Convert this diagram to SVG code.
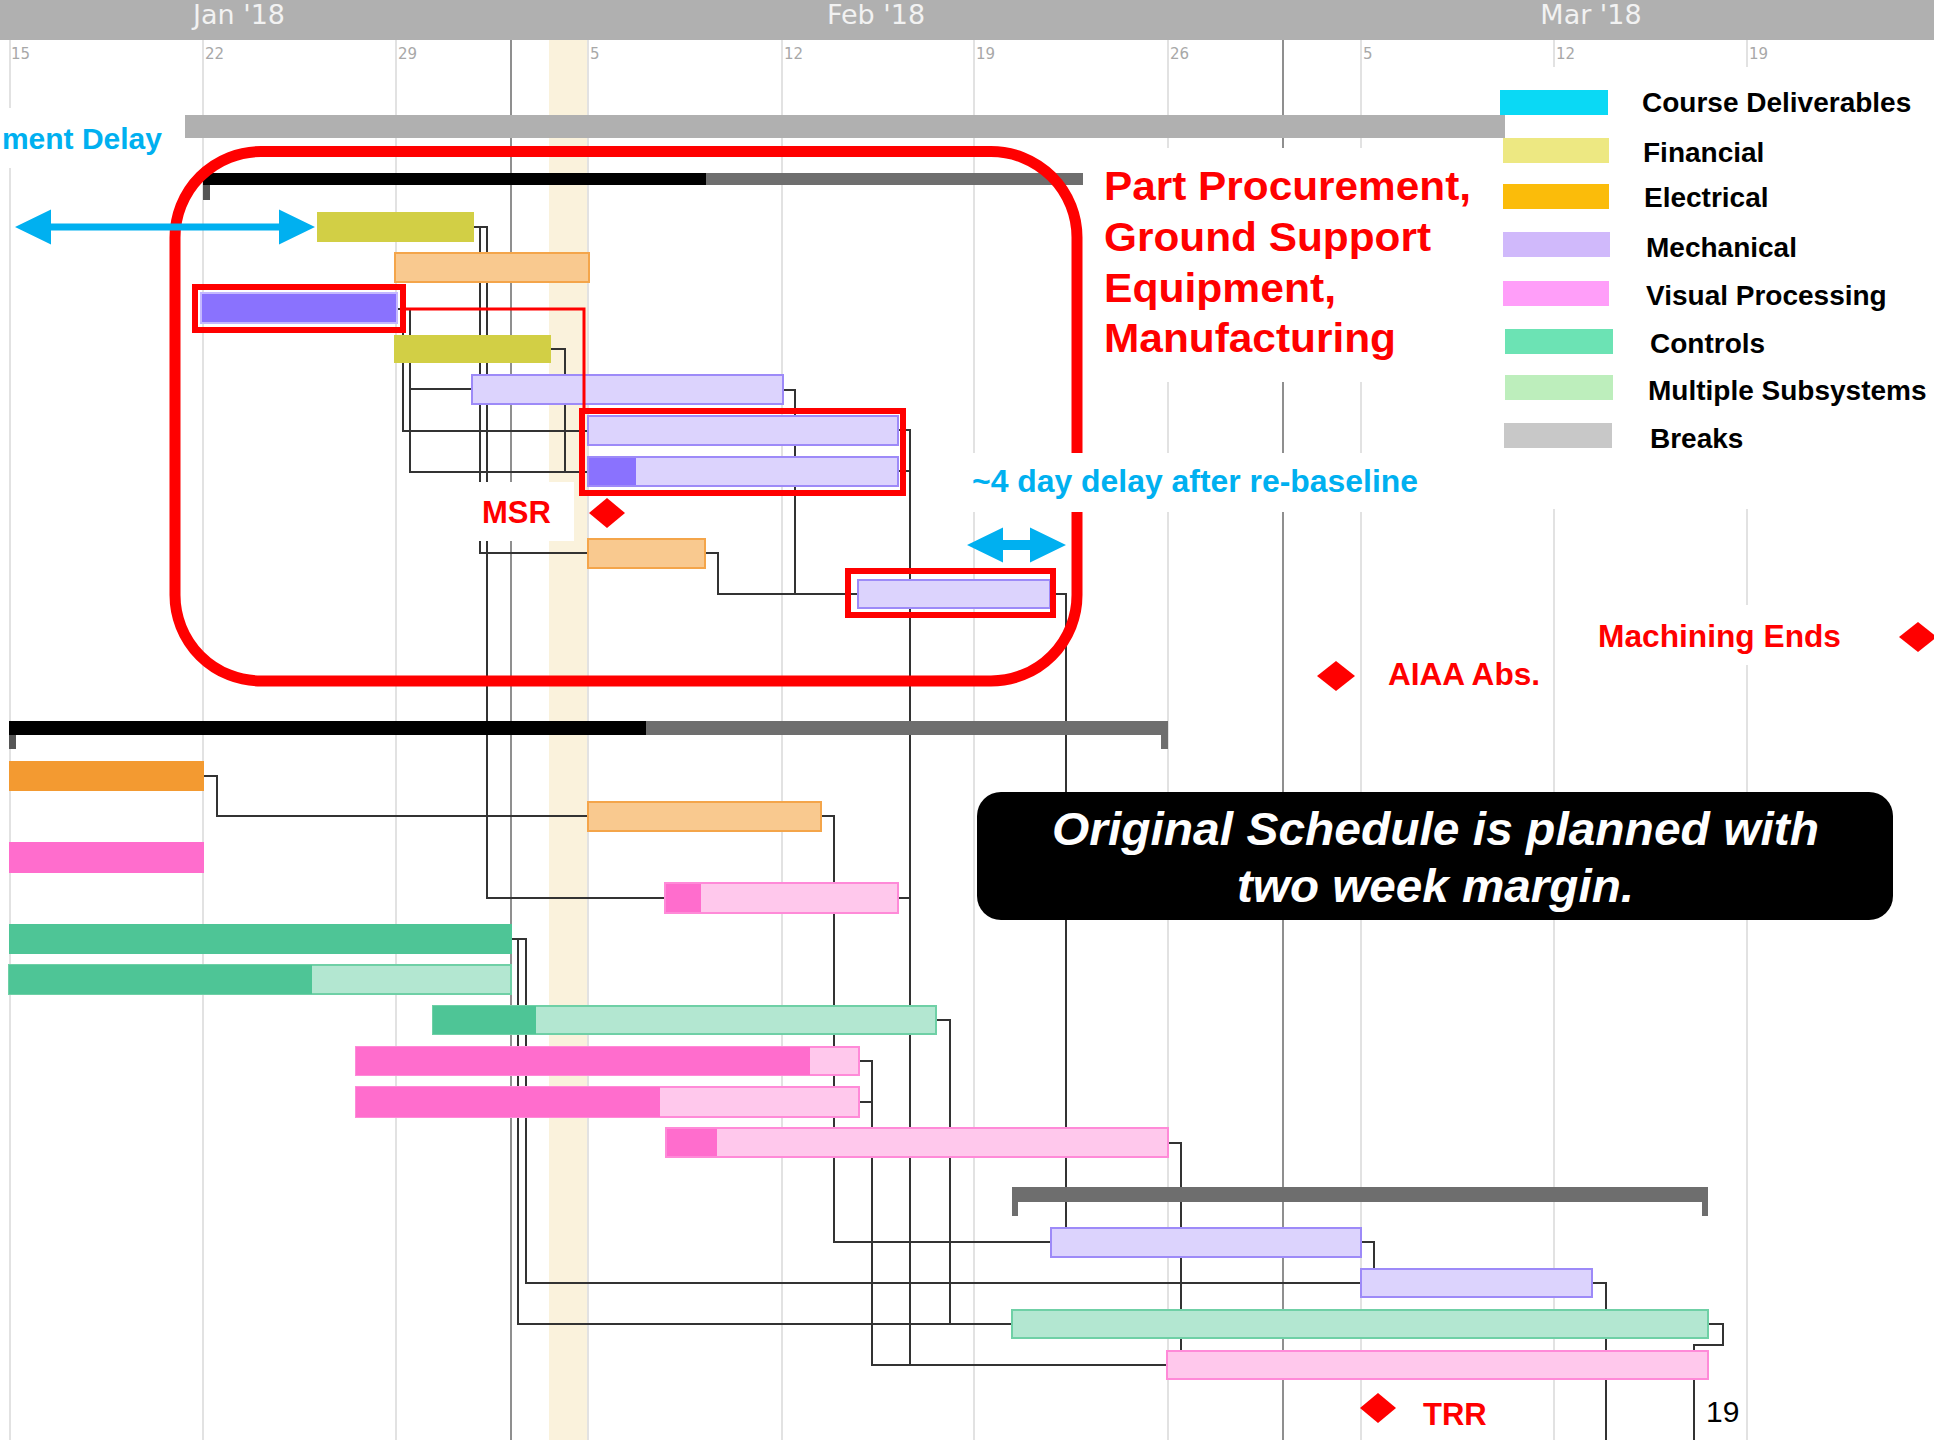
<svg xmlns="http://www.w3.org/2000/svg" width="1934" height="1440" viewBox="0 0 1934 1440">
<style>
.grid{stroke:#e2e2e2;stroke-width:2}
.mon{stroke:#8f8f8f;stroke-width:2}
.wk{font-family:"DejaVu Sans",sans-serif;font-size:15px;fill:#a8a8a8}
.mo{font-family:"DejaVu Sans",sans-serif;font-size:27px;fill:#f2f2f2;text-anchor:middle}
.olive{fill:#d2cf45}
.lorange{fill:#f9c98f;stroke:#f4a54a;stroke-width:2}
.orange{fill:#f39a31}
.dpurple{fill:#8a72fe}
.lpurple{fill:#dcd3fd;stroke:#9d8af8;stroke-width:2}
.pink{fill:#ff6dcd}
.lpink{fill:#ffc8ec;stroke:#ff8ad8;stroke-width:2}
.green{fill:#4ec596}
.lgreen{fill:#b3e7d1;stroke:#6fd0a6;stroke-width:2}
.conn path{fill:none;stroke:#333;stroke-width:2}
.redbox{fill:none;stroke:#ff0000;stroke-width:6}
.lbl{font-family:"Liberation Sans",Arial,sans-serif;font-weight:bold}
.red{fill:#ff0000}
.blue{fill:#00b0f0}
.leg{font-family:"Liberation Sans",Arial,sans-serif;font-weight:bold;font-size:28px;fill:#000}
.bg{fill:#ffffff}
</style>
<rect width="1934" height="1440" fill="#ffffff"/>
<g id="timeline">
<rect x="0" y="0" width="1934" height="40" fill="#b0b0b0"/>
<text class="mo" x="239" y="24">Jan '18</text>
<text class="mo" x="876" y="24">Feb '18</text>
<text class="mo" x="1591" y="24">Mar '18</text>
<rect x="549" y="40" width="39" height="1400" fill="#faf2dc"/>
<line class="grid" x1="10" y1="40" x2="10" y2="1440"/>
<line class="grid" x1="203" y1="40" x2="203" y2="1440"/>
<line class="grid" x1="396" y1="40" x2="396" y2="1440"/>
<line class="grid" x1="588" y1="40" x2="588" y2="1440"/>
<line class="grid" x1="782" y1="40" x2="782" y2="1440"/>
<line class="grid" x1="974" y1="40" x2="974" y2="1440"/>
<line class="grid" x1="1168" y1="40" x2="1168" y2="1440"/>
<line class="grid" x1="1361" y1="40" x2="1361" y2="1440"/>
<line class="grid" x1="1554" y1="40" x2="1554" y2="1440"/>
<line class="grid" x1="1747" y1="40" x2="1747" y2="1440"/>
<line class="mon" x1="511" y1="40" x2="511" y2="1440"/>
<line class="mon" x1="1283" y1="40" x2="1283" y2="1440"/>
<text class="wk" x="11" y="59">15</text>
<text class="wk" x="205" y="59">22</text>
<text class="wk" x="398" y="59">29</text>
<text class="wk" x="590" y="59">5</text>
<text class="wk" x="784" y="59">12</text>
<text class="wk" x="976" y="59">19</text>
<text class="wk" x="1170" y="59">26</text>
<text class="wk" x="1363" y="59">5</text>
<text class="wk" x="1556" y="59">12</text>
<text class="wk" x="1749" y="59">19</text>
</g>
<g id="connectors" class="conn">
<path d="M474,227 H487 V898 H665"/>
<path d="M474,227 H480 V553 H588"/>
<path d="M397,309 H410 V389 H472"/>
<path d="M397,309 H403 V431 H588"/>
<path d="M410,389 V472 H588"/>
<path d="M551,349 H565 V472 H588"/>
<path d="M783,390 H795 V594 H858"/>
<path d="M705,553 H718 V594 H795"/>
<path d="M898,430 H910 V1365 H1167"/>
<path d="M898,471 H910"/>
<path d="M1050,594 H1066 V1242 H1051"/>
<path d="M204,776 H217 V816 H588"/>
<path d="M821,816 H834 V1242 H1051"/>
<path d="M898,898 H910"/>
<path d="M512,939 H526 V1283 H1361"/>
<path d="M512,939 H518 V1324 H1012"/>
<path d="M936,1020 H950 V1324 H1012"/>
<path d="M859,1061 H872 V1365 H910"/>
<path d="M859,1102 H872"/>
<path d="M1168,1143 H1181 V1365"/>
<path d="M1361,1242 H1374 V1283 H1361"/>
<path d="M1592,1283 H1606 V1440"/>
<path d="M1708,1324 H1723 V1345 H1694 V1440"/>
</g>
<g id="breaks"><rect x="185" y="115" width="1320" height="23" fill="#b0b0b0"/></g>
<g id="summary-procurement">
<rect x="203" y="173" width="503" height="12" fill="#000"/>
<rect x="706" y="173" width="377" height="12" fill="#6e6e6e"/>
<rect x="203" y="185" width="7" height="15" fill="#555"/>
</g>
<g id="task-r2"><rect class="olive" x="317" y="212" width="157" height="30"/></g>
<g id="task-r3"><rect class="lorange" x="395" y="253" width="194" height="29"/></g>
<g id="task-r4"><rect class="dpurple" x="201" y="293" width="196" height="30" stroke="#c4b8ff" stroke-width="2"/></g>
<g id="task-r5"><rect class="olive" x="394" y="335" width="157" height="28"/></g>
<g id="task-r6"><rect class="lpurple" x="472" y="375" width="311" height="29"/></g>
<g id="task-r7"><rect class="lpurple" x="588" y="416" width="310" height="29"/></g>
<g id="task-r8"><rect class="lpurple" x="588" y="457" width="310" height="29"/><rect class="dpurple" x="589" y="458" width="47" height="27"/></g>
<g id="task-r10"><rect class="lorange" x="588" y="539" width="117" height="29"/></g>
<g id="task-r11"><rect class="lpurple" x="858" y="580" width="192" height="28"/></g>
<g id="summary-lower">
<rect x="9" y="721" width="637" height="14" fill="#000"/>
<rect x="646" y="721" width="522" height="14" fill="#6e6e6e"/>
<rect x="9" y="735" width="7" height="14" fill="#555"/>
<rect x="1161" y="735" width="7" height="14" fill="#6e6e6e"/>
</g>
<g id="task-l1"><rect class="orange" x="9" y="761" width="195" height="30"/></g>
<g id="task-l2"><rect class="lorange" x="588" y="802" width="233" height="29"/></g>
<g id="task-l3"><rect class="pink" x="9" y="842" width="195" height="31"/></g>
<g id="task-l4"><rect class="lpink" x="665" y="883" width="233" height="30"/><rect class="pink" x="666" y="884" width="35" height="28"/></g>
<g id="task-l5"><rect class="green" x="9" y="924" width="503" height="30"/></g>
<g id="task-l6"><rect class="lgreen" x="9" y="965" width="502" height="29"/><rect class="green" x="9" y="965" width="303" height="29"/></g>
<g id="task-l7"><rect class="lgreen" x="433" y="1006" width="503" height="28"/><rect class="green" x="433" y="1006" width="103" height="28"/></g>
<g id="task-l8"><rect class="lpink" x="356" y="1047" width="503" height="28"/><rect class="pink" x="356" y="1047" width="454" height="28"/></g>
<g id="task-l9"><rect class="lpink" x="356" y="1087" width="503" height="30"/><rect class="pink" x="356" y="1087" width="304" height="30"/></g>
<g id="task-l10"><rect class="lpink" x="666" y="1128" width="502" height="29"/><rect class="pink" x="667" y="1129" width="50" height="27"/></g>
<g id="summary-final">
<rect x="1012" y="1187" width="696" height="15" fill="#6e6e6e"/>
<rect x="1012" y="1202" width="6" height="14" fill="#6e6e6e"/>
<rect x="1702" y="1202" width="6" height="14" fill="#6e6e6e"/>
</g>
<g id="task-p1"><rect class="lpurple" x="1051" y="1228" width="310" height="29"/></g>
<g id="task-p2"><rect class="lpurple" x="1361" y="1269" width="231" height="28"/></g>
<g id="task-g"><rect class="lgreen" x="1012" y="1310" width="696" height="28"/></g>
<g id="task-b"><rect class="lpink" x="1167" y="1351" width="541" height="28"/></g>
<g id="highlights">
<rect x="175" y="151.5" width="902" height="529.5" rx="86" fill="none" stroke="#ff0000" stroke-width="11"/>
<rect class="redbox" x="195" y="287" width="208" height="43"/>
<path d="M406,309 H584 V411" fill="none" stroke="#ff0000" stroke-width="3"/>
<rect class="redbox" x="582" y="411" width="321" height="82"/>
<rect class="redbox" x="848" y="571" width="205" height="44"/>
</g>
<g id="label-bgs">
<rect class="bg" x="0" y="108" width="185" height="60"/>
<rect class="bg" x="1084" y="148" width="421" height="234"/>
<rect class="bg" x="1505" y="67" width="429" height="442"/>
<rect class="bg" x="478" y="482" width="96" height="59"/>
<rect class="bg" x="965" y="453" width="475" height="59"/>
<rect class="bg" x="1556" y="605" width="324" height="60"/>
<rect class="bg" x="1376" y="643" width="176" height="60"/>
</g>
<g id="legend">
<rect x="1500" y="90" width="108" height="25" fill="#0ad9f5"/>
<text class="leg" x="1642" y="112">Course Deliverables</text>
<rect x="1503" y="138" width="106" height="25" fill="#ede882"/>
<text class="leg" x="1643" y="162">Financial</text>
<rect x="1503" y="184" width="106" height="25" fill="#fbbc0a"/>
<text class="leg" x="1644" y="207">Electrical</text>
<rect x="1503" y="232" width="107" height="25" fill="#d0b9fb"/>
<text class="leg" x="1646" y="257">Mechanical</text>
<rect x="1503" y="281" width="106" height="25" fill="#ff9ef9"/>
<text class="leg" x="1646" y="305">Visual Processing</text>
<rect x="1505" y="329" width="108" height="25" fill="#6ce3b4"/>
<text class="leg" x="1650" y="353">Controls</text>
<rect x="1505" y="375" width="108" height="25" fill="#bdeebc"/>
<text class="leg" x="1648" y="400">Multiple Subsystems</text>
<rect x="1504" y="423" width="108" height="25" fill="#c8c8c8"/>
<text class="leg" x="1650" y="448">Breaks</text>
</g>
<g id="annotations">
<text class="lbl blue" x="162" y="149" font-size="30" text-anchor="end">ment Delay</text>
<polygon class="blue" points="15,227 51,209.5 51,223.5 279,223.5 279,209.5 315,227 279,244.5 279,230.5 51,230.5 51,244.5"/>
<text class="lbl red" font-size="41"><tspan x="1104" y="200" textLength="367" lengthAdjust="spacingAndGlyphs">Part Procurement,</tspan><tspan x="1104" y="251" textLength="327" lengthAdjust="spacingAndGlyphs">Ground Support</tspan><tspan x="1104" y="302" textLength="232" lengthAdjust="spacingAndGlyphs">Equipment,</tspan><tspan x="1104" y="352" textLength="292" lengthAdjust="spacingAndGlyphs">Manufacturing</tspan></text>
<text class="lbl blue" x="972" y="492" font-size="31" textLength="446" lengthAdjust="spacingAndGlyphs">~4 day delay after re-baseline</text>
<polygon class="blue" points="967,545 1003,527.5 1003,540 1030,540 1030,527.5 1066,545 1030,562.5 1030,550 1003,550 1003,562.5"/>
</g>
<g id="milestone-msr">
<text class="lbl red" x="482" y="523" font-size="31">MSR</text>
<polygon class="red" points="607,498 625,513 607,528 589,513"/>
</g>
<g id="milestone-aiaa">
<polygon class="red" points="1336,661 1355,676 1336,691 1317,676"/>
<text class="lbl red" x="1388" y="685" font-size="31" textLength="152" lengthAdjust="spacingAndGlyphs">AIAA Abs.</text>
</g>
<g id="milestone-machining">
<text class="lbl red" x="1598" y="647" font-size="31" textLength="243" lengthAdjust="spacingAndGlyphs">Machining Ends</text>
<polygon class="red" points="1918,622 1937,637 1918,652 1899,637"/>
</g>
<g id="milestone-trr">
<polygon class="red" points="1378,1393 1396,1408 1378,1423 1360,1408"/>
<text class="lbl red" x="1423" y="1425" font-size="31">TRR</text>
</g>
<g id="callout">
<rect x="977" y="792" width="916" height="128" rx="24" fill="#000"/>
<text class="lbl" fill="#ffffff" font-style="italic" font-size="46"><tspan x="1052" y="845" textLength="767" lengthAdjust="spacingAndGlyphs">Original Schedule is planned with</tspan><tspan x="1237" y="902" textLength="397" lengthAdjust="spacingAndGlyphs">two week margin.</tspan></text>
</g>
<text x="1706" y="1422" font-family="Liberation Sans, Arial, sans-serif" font-size="30" fill="#000">19</text>
</svg>
